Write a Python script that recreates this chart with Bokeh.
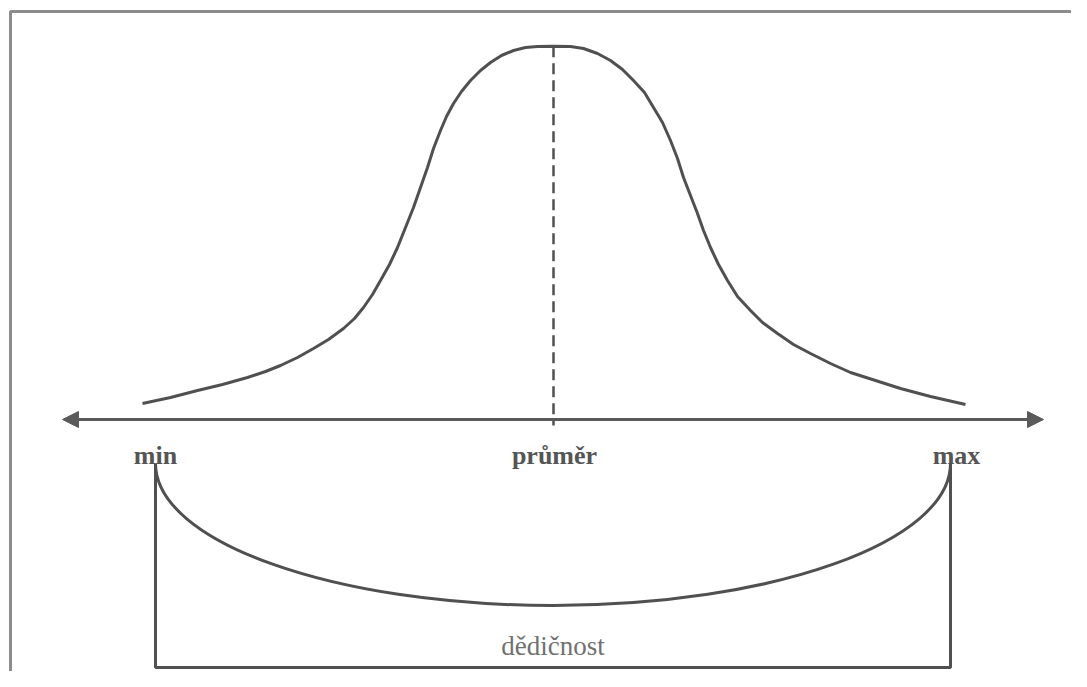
from bokeh.plotting import figure
from bokeh.models import Range1d, Arrow, NormalHead, ColumnDataSource
from bokeh.core.properties import value
from bokeh.embed import file_html
from bokeh.resources import INLINE

# ---- data (diagram units) ----
curve_x = [142, 170, 197, 222, 247, 265, 280, 297, 313, 328, 343, 354, 363, 372, 380, 389,
           397, 405, 413, 420, 427, 433, 440, 446, 453, 461, 470, 480, 490, 501, 513, 525,
           537, 553, 570, 583, 597, 610, 622, 633, 644, 653, 662, 670, 677, 683, 690, 697,
           703, 710, 718, 727, 737, 750, 762, 777, 793, 810, 830, 850, 875, 900, 930, 965]
curve_y = [403, 397, 390, 384, 377, 371, 365, 357, 348, 339, 328, 318, 307, 294, 280, 264,
           247, 227, 207, 187, 167, 148, 130, 116, 103, 91, 80, 70, 62, 55, 50, 47,
           46, 45.7, 46, 48, 53, 60, 69, 80, 92, 107, 122, 140, 158, 177, 195, 213,
           230, 247, 264, 280, 296, 310, 322, 333, 344, 353, 363, 372, 380, 388, 396, 404]

axis_labels = ["min", "průměr", "max"]
axis_label_x = [155, 554, 956]
mean_x = 553
axis_start, axis_end = 62, 1043
range_label = "dědičnost"
bracket_left, bracket_right = 155, 950

# ---- layout constants ----
AXIS_Y = 419
LABEL_Y = 455
BRACKET_TOP = 463
BRACKET_BOTTOM = 667
ARC_BOTTOM = 605
INK = "#505050"

p = figure(width=1071, height=671, output_backend="svg", toolbar_location=None,
           x_range=Range1d(0, 1071), y_range=Range1d(671, 0),
           min_border=0, outline_line_color=None, background_fill_color="white",
           border_fill_color="white")
p.axis.visible = False
p.grid.visible = False

# frame of the scanned figure
p.line([10, 10, 1090], [700, 11, 11], line_color="#8c8c8c", line_width=3)

# bell curve
p.line(curve_x, curve_y, line_color=INK, line_width=3)

# dashed mean line
p.line([mean_x, mean_x], [min(curve_y), AXIS_Y + 6], line_color=INK, line_width=2.5,
       line_dash="11 6")

# double-headed axis arrow
p.add_layout(Arrow(x_start=axis_start, y_start=AXIS_Y, x_end=axis_end, y_end=AXIS_Y,
                   line_color="#5a5a5a", line_width=3,
                   start=NormalHead(size=16, fill_color="#5a5a5a", line_color="#5a5a5a"),
                   end=NormalHead(size=16, fill_color="#5a5a5a", line_color="#5a5a5a")))

# axis labels
src = ColumnDataSource(dict(x=axis_label_x, y=[LABEL_Y] * 3, t=axis_labels))
p.text(x="x", y="y", text="t", source=src, text_font=value("Liberation Serif"),
       text_font_style="bold", text_font_size="26px", text_color="#555555",
       text_align="center", text_baseline="alphabetic")

# bracket
p.line([bracket_left, bracket_left, bracket_right, bracket_right],
       [BRACKET_TOP, BRACKET_BOTTOM, BRACKET_BOTTOM, BRACKET_TOP],
       line_color=INK, line_width=3)
k = 0.5523
mid = (bracket_left + bracket_right) / 2
a_l = mid - bracket_left
a_r = bracket_right - mid
b = ARC_BOTTOM - BRACKET_TOP
p.bezier(x0=[bracket_left, mid], y0=[BRACKET_TOP, ARC_BOTTOM],
         x1=[mid, bracket_right], y1=[ARC_BOTTOM, BRACKET_TOP],
         cx0=[bracket_left, mid + k * a_r], cy0=[BRACKET_TOP + k * b, ARC_BOTTOM],
         cx1=[mid - k * a_l, bracket_right], cy1=[ARC_BOTTOM, BRACKET_TOP + k * b],
         line_color=INK, line_width=3)

p.text(x=[mid], y=[645], text=[range_label], text_font=value("Liberation Serif"),
       text_font_size="27px", text_color="#707070", text_align="center",
       text_baseline="alphabetic")

open("out.html", "w").write(file_html(p, INLINE))
